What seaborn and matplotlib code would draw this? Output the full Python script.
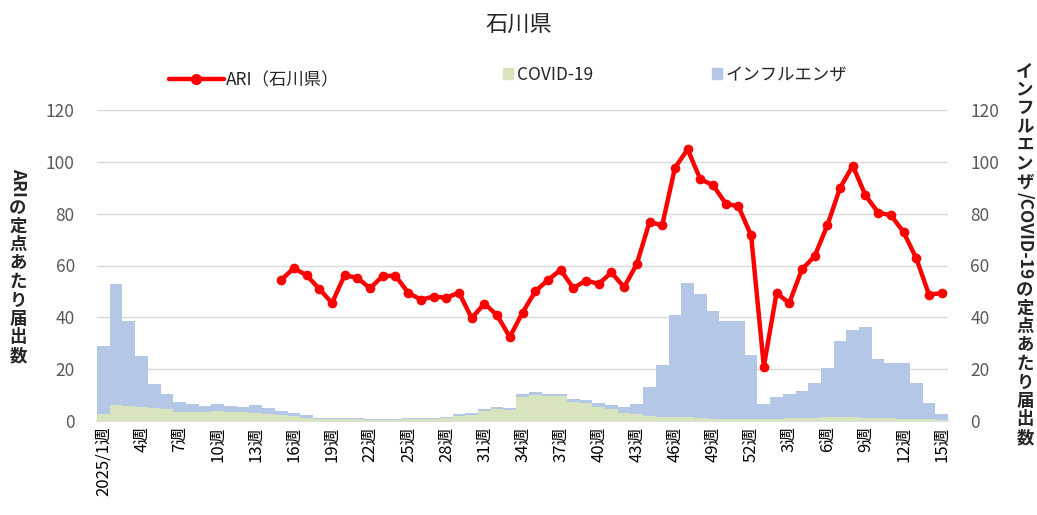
import numpy as np
import pandas as pd
import matplotlib
matplotlib.use("Agg")
import matplotlib.pyplot as plt
from matplotlib.lines import Line2D
from matplotlib.patches import Patch
import seaborn as sns

# ----------------------------------------------------
# データ（2025年1週〜2026年15週）
# ----------------------------------------------------
weeks_2025 = list(range(1, 53))
weeks_2026 = list(range(1, 16))

covid = [2.7, 6.2, 5.8, 5.5, 5.0, 4.8, 3.6, 3.6, 3.3, 4.0, 3.6, 3.3, 3.0, 2.8, 2.4,
         1.9, 1.3, 0.8, 0.6, 0.6, 0.6, 0.5, 0.5, 0.5, 0.6, 0.7, 0.8, 1.0, 1.8, 2.5,
         3.8, 4.6, 4.4, 9.3, 10.0, 9.6, 9.6, 7.4, 6.8, 5.5, 4.5, 3.2, 2.6, 1.9, 1.5,
         1.5, 1.6, 1.0, 0.8, 0.7, 0.6, 0.6,
         0.6, 0.8, 1.0, 1.0, 1.2, 1.5, 1.6, 1.4, 1.2, 1.0, 1.0, 0.9, 0.8, 0.6, 0.5]

influenza = [26.1, 46.8, 32.7, 19.6, 9.2, 5.5, 3.7, 2.8, 2.6, 2.4, 2.3, 2.2, 3.1, 2.2, 1.6,
             1.2, 0.9, 0.5, 0.6, 0.6, 0.6, 0.3, 0.2, 0.2, 0.4, 0.3, 0.4, 0.6, 0.8, 0.7,
             0.7, 0.7, 0.6, 1.0, 1.3, 0.8, 1.0, 0.9, 1.3, 1.3, 1.5, 2.3, 3.8, 11.3, 20.2,
             39.4, 51.7, 48.0, 41.5, 38.0, 38.1, 24.9,
             5.9, 8.6, 9.3, 10.4, 13.4, 19.1, 29.1, 33.7, 34.9, 22.9, 21.3, 21.4, 13.8, 6.5, 2.3]

ari = [np.nan] * 14 + [
    54.4, 59.0, 56.2, 51.0, 45.5, 56.3, 55.2, 51.2, 56.0, 56.0, 49.5, 46.8, 48.0, 47.6,
    49.5, 39.7, 45.3, 40.8, 32.4, 41.8, 50.0, 54.4, 58.3, 51.3, 54.2, 52.9, 57.3, 51.6,
    60.6, 76.8, 75.5, 97.7, 104.8, 93.3, 91.0, 83.9, 82.8, 71.6,
    21.0, 49.4, 45.5, 58.5, 63.6, 75.5, 89.9, 98.5, 87.1, 80.4, 79.4, 72.9, 62.8, 48.8, 49.3]

week_labels = ["2025/1週"] + [f"{w}週" for w in weeks_2025[1:]] + [f"{w}週" for w in weeks_2026]

df = pd.DataFrame({
    "idx": np.arange(len(week_labels)),
    "covid": covid,
    "influenza": influenza,
    "ari": ari,
})
df["total"] = df["covid"] + df["influenza"]

# ----------------------------------------------------
# スタイル
# ----------------------------------------------------
sns.set_theme(style="white")
plt.rcParams["font.family"] = ["Noto Sans CJK JP", "DejaVu Sans"]

W, H = 1037, 515
fig, ax = plt.subplots(figsize=(W / 100, H / 100), dpi=100)
fig.subplots_adjust(left=97 / W, right=948 / W, bottom=1 - 421 / H, top=1 - 110 / H)

col_flu = "#b4c7e7"
col_cov = "#d7e4bd"
col_ari = "#ff0000"
col_tick = "#595959"

# バー（インフルエンザを上に積み上げ）
sns.barplot(data=df, x="idx", y="total", color=col_flu, saturation=1, width=1,
            linewidth=0, errorbar=None, ax=ax, zorder=2)
sns.barplot(data=df, x="idx", y="covid", color=col_cov, saturation=1, width=1,
            linewidth=0, errorbar=None, ax=ax, zorder=3)

# ARI 折れ線
sns.lineplot(data=df.dropna(subset=["ari"]), x="idx", y="ari", color=col_ari,
             linewidth=3.2, marker="o", markersize=7, markeredgewidth=0, ax=ax, zorder=5)

ax.set_xlim(-0.5, len(week_labels) - 0.5)
ax.set_ylim(0, 120)
ax.set_yticks(range(0, 121, 20))
ax.set_xticks(range(0, len(week_labels), 3))
ax.set_xticklabels(week_labels[::3], rotation=90, fontsize=12, color="black")
ax.tick_params(axis="y", length=0, pad=16, labelsize=12.5, labelcolor=col_tick)
ax.tick_params(axis="x", length=0, pad=4)
ax.set_xlabel("")
ax.set_ylabel("")
ax.yaxis.grid(True, color="#d9d9d9", linewidth=1)
ax.set_axisbelow(True)
for s in ["top", "right", "left"]:
    ax.spines[s].set_visible(False)
ax.spines["bottom"].set_color("#d9d9d9")

ax2 = ax.twinx()
ax2.set_ylim(0, 120)
ax2.set_yticks(range(0, 121, 20))
ax2.tick_params(axis="y", length=0, pad=16, labelsize=12.5, labelcolor=col_tick)
for s in ax2.spines.values():
    s.set_visible(False)

# タイトル
fig.text(0.5, 1 - 25 / H, "石川県", ha="center", va="center", fontsize=16)

# 凡例（3つ別々に配置）
leg1 = fig.legend(handles=[Line2D([], [], color=col_ari, lw=3.2, marker="o", markersize=7)],
                  labels=["ARI（石川県）"], loc="center left",
                  bbox_to_anchor=(160 / W, 1 - 80 / H), frameon=False, fontsize=12.5,
                  handlelength=3.2, handletextpad=0.1, borderpad=0)
leg2 = fig.legend(handles=[Patch(color=col_cov)], labels=["COVID-19"], loc="center left",
                  bbox_to_anchor=(494 / W, 1 - 75 / H), frameon=False, fontsize=12.5,
                  handlelength=0.6, handleheight=0.6, handletextpad=0.2, borderpad=0)
leg3 = fig.legend(handles=[Patch(color=col_flu)], labels=["インフルエンザ"], loc="center left",
                  bbox_to_anchor=(703 / W, 1 - 75 / H), frameon=False, fontsize=12.5,
                  handlelength=0.6, handleheight=0.6, handletextpad=0.2, borderpad=0)


# 縦書きの軸ラベル
def vertical_label(x_px, top_px, parts, size=12.5, step=18.5):
    renderer = fig.canvas.get_renderer()
    y = top_px
    for text, rotated in parts:
        if rotated:
            t = fig.text(x_px / W, 1 - y / H, text, rotation=-90, ha="center", va="top",
                         fontsize=size, fontweight="bold")
            y += t.get_window_extent(renderer).height + 2
        else:
            for ch in text:
                fig.text(x_px / W, 1 - (y + step / 2) / H, ch, ha="center", va="center",
                         fontsize=size, fontweight="bold")
                y += step


vertical_label(18, 168, [("ARI", True), ("の定点あたり届出数", False)])
vertical_label(1025, 62, [("インフルエンザ", False), ("/COVID-19", True),
                          ("の定点あたり届出数", False)])

plt.savefig("out.png", dpi=100)
plt.close()
